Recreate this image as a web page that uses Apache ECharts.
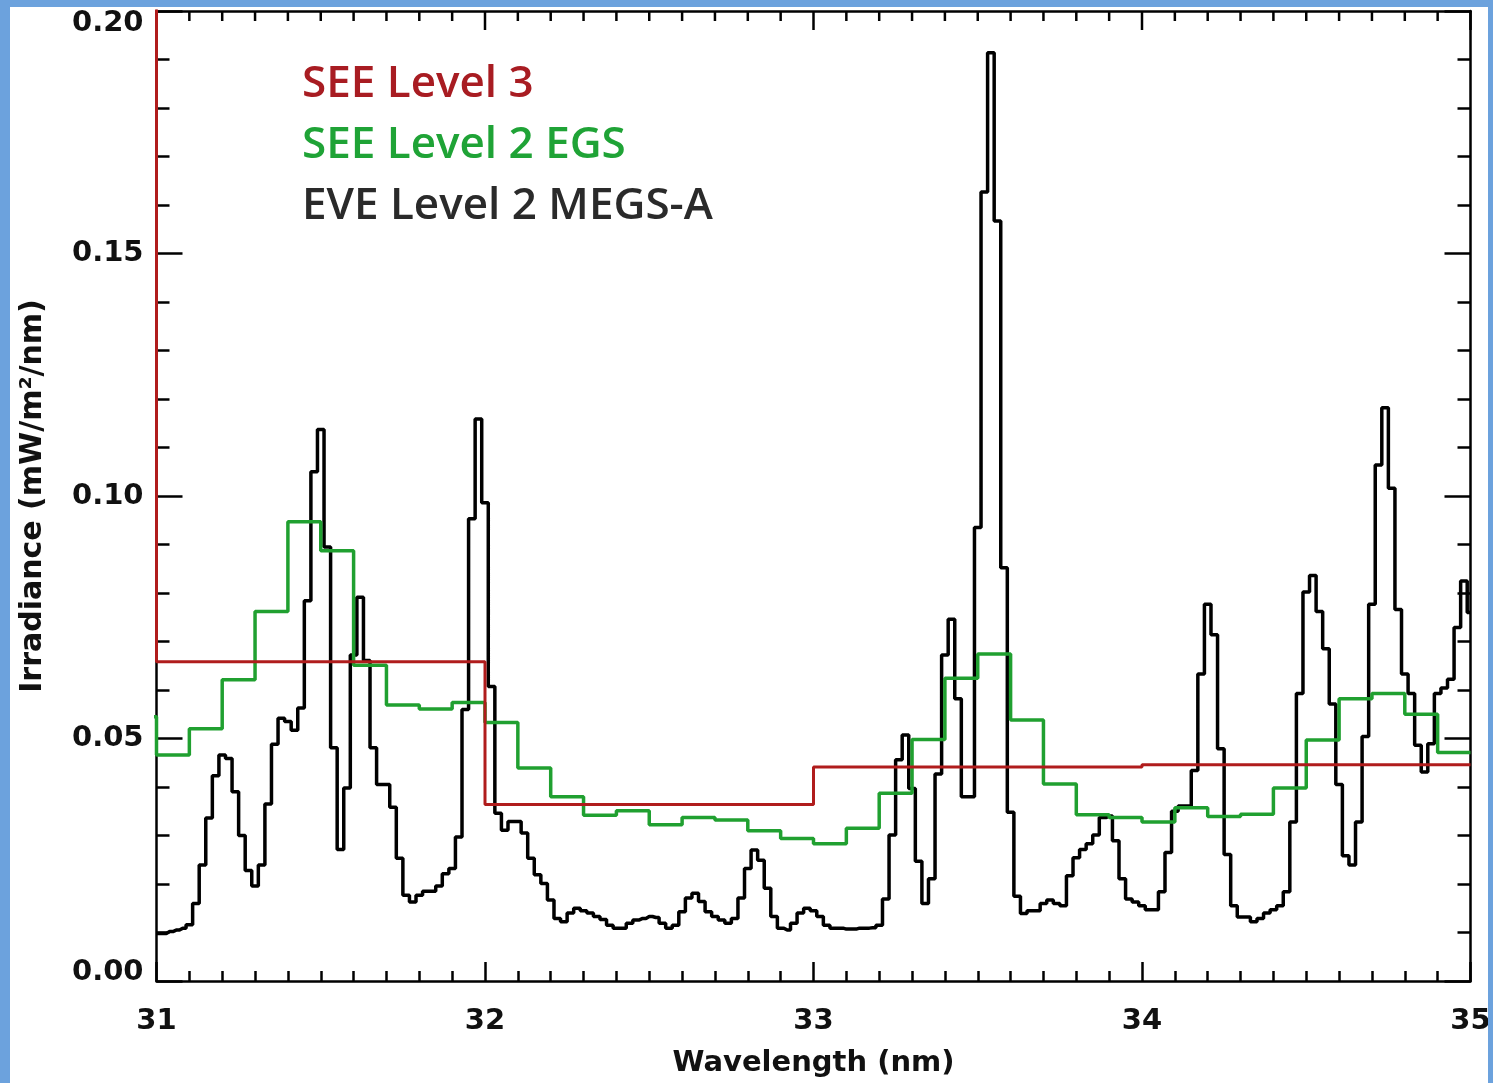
<!DOCTYPE html>
<html>
<head>
<meta charset="utf-8">
<script src="https://cdn.jsdelivr.net/npm/echarts@6/dist/echarts.min.js"></script>
<style>
  html, body { margin: 0; padding: 0; background: #6ca2dd; width: 1493px; height: 1083px; overflow: hidden; }
  #chart { position: absolute; left: 10px; top: 7px; width: 1478px; height: 1076px; background: #ffffff; }
</style>
</head>
<body>
<div id="chart"></div>
<script>
// EVE Level 2 MEGS-A, 0.02 nm bins centred on 31.00 ... 35.00 nm
var eveStart = 31.0;
var eveStep = 0.02;
var eveIrradiance = [
  0.0098, 0.0098, 0.0102, 0.0105, 0.0109, 0.0116, 0.0160, 0.0239, 0.0336, 0.0423,
  0.0466, 0.0459, 0.0390, 0.0300, 0.0228, 0.0196, 0.0239, 0.0365, 0.0488, 0.0542,
  0.0535, 0.0517, 0.0563, 0.0784, 0.1050, 0.1137, 0.0895, 0.0481, 0.0271, 0.0398,
  0.0672, 0.0791, 0.0661, 0.0481, 0.0405, 0.0405, 0.0358, 0.0253, 0.0177, 0.0163,
  0.0177, 0.0185, 0.0185, 0.0196, 0.0221, 0.0232, 0.0297, 0.0560, 0.0953, 0.1159,
  0.0986,
  0.0607, 0.0346, 0.0311, 0.0329, 0.0329, 0.0305, 0.0253, 0.0219, 0.0201, 0.0167,
  0.0129, 0.0122, 0.0140, 0.0150, 0.0145, 0.0140, 0.0133, 0.0127, 0.0115, 0.0109,
  0.0109, 0.0119, 0.0126, 0.0129, 0.0133, 0.0131, 0.0119, 0.0109, 0.0115, 0.0143,
  0.0171, 0.0181, 0.0164, 0.0143, 0.0133, 0.0126, 0.0119, 0.0129, 0.0171, 0.0232,
  0.0270, 0.0249, 0.0191, 0.0133, 0.0109, 0.0105, 0.0119, 0.0140, 0.0150, 0.0145,
  0.0133, 0.0115, 0.0109, 0.0109, 0.0107, 0.0107, 0.0109, 0.0109, 0.0110, 0.0115,
  0.0169, 0.0301, 0.0456, 0.0507, 0.0397, 0.0247, 0.0160, 0.0211, 0.0427, 0.0672,
  0.0746, 0.0582, 0.0380, 0.0380, 0.0935, 0.1627, 0.1914, 0.1567, 0.0852, 0.0348,
  0.0175, 0.0139, 0.0145, 0.0145, 0.0160, 0.0167, 0.0160, 0.0155, 0.0217, 0.0254,
  0.0271, 0.0283, 0.0301, 0.0337, 0.0340, 0.0289, 0.0211, 0.0169, 0.0163, 0.0155,
  0.0147, 0.0147, 0.0184, 0.0265, 0.0350, 0.0361, 0.0361, 0.0434, 0.0633, 0.0777,
  0.0714, 0.0479, 0.0261, 0.0155, 0.0132, 0.0132, 0.0122, 0.0129, 0.0140, 0.0147,
  0.0155, 0.0184, 0.0328, 0.0593, 0.0802, 0.0836, 0.0762, 0.0685, 0.0571, 0.0405,
  0.0258, 0.0239, 0.0328, 0.0504, 0.0777, 0.1064, 0.1182, 0.1016, 0.0766, 0.0633,
  0.0593, 0.0486, 0.0431, 0.0489, 0.0593, 0.0604, 0.0622, 0.0729, 0.0825, 0.0760
];

// SEE Level 2 EGS, 0.1 nm bins, left edges from 30.9 nm
var egsStart = 30.9;
var egsStep = 0.1;
var egsIrradiance = [
  0.0545,
  0.0466, 0.0520, 0.0621, 0.0762, 0.0947, 0.0887, 0.0651, 0.0569, 0.0561, 0.0574,
  0.0533, 0.0439, 0.0380, 0.0342, 0.0351, 0.0322, 0.0337, 0.0332, 0.0310, 0.0294,
  0.0283, 0.0315, 0.0387, 0.0498, 0.0624, 0.0674, 0.0538, 0.0406, 0.0343, 0.0337,
  0.0328, 0.0357, 0.0339, 0.0344, 0.0398, 0.0497, 0.0582, 0.0593, 0.0550, 0.0471
];

// SEE Level 3, 1 nm bins (left edges)
var l3Wavelength = [30, 31, 32, 33, 34, 35];
var l3Irradiance = [0.30, 0.0658, 0.0364, 0.0441, 0.0446, 0.0446];

var yTicks = ['0.00', '0.05', '0.10', '0.15', '0.20'];

var xMin = 31, xMax = 35, xMinorSplit = 10;
var yMax = 0.2;

var eveData = eveIrradiance.map(function (v, i) {
    return [+(eveStart + i * eveStep).toFixed(2), v];
});
var egsData = egsIrradiance.map(function (v, i) {
    return [+(egsStart + i * egsStep).toFixed(1), v];
});
egsData.push([35.0, egsIrradiance[egsIrradiance.length - 1]]);
var l3Data = l3Wavelength.map(function (w, i) { return [w, l3Irradiance[i]]; });

// tick positions of the top frame edge (same as the bottom axis: 1 nm major, 0.1 nm minor)
var topTicks = [];
for (var t = 0; t <= (xMax - xMin) * xMinorSplit; t++) {
    topTicks.push([+(xMin + t / xMinorSplit).toFixed(1), t % xMinorSplit === 0 ? 1 : 0]);
}

var labelFont = { fontFamily: 'DejaVu Sans', fontWeight: 'bold', fontSize: 29, color: '#111' };
var legendFont = { fontFamily: 'Open Sans', fontWeight: 600, fontSize: 44, lineHeight: 46 };

var chart = echarts.init(document.getElementById('chart'));

var frameLine = { color: '#000', width: 2.5 };

var option = {
    animation: false,
    backgroundColor: '#ffffff',
    grid: { left: 146.5, top: 4, width: 1314, height: 970, outerBoundsMode: 'none', containLabel: false },
    legend: {
        orient: 'vertical', left: 282, top: 49, itemGap: 15,
        icon: 'none', itemWidth: 0, itemHeight: 14, selectedMode: false,
        textStyle: legendFont,
        data: [
            { name: 'SEE Level 3', textStyle: { color: '#a81c22' } },
            { name: 'SEE Level 2 EGS', textStyle: { color: '#1fa336' } },
            { name: 'EVE Level 2 MEGS-A', textStyle: { color: '#2a2a2a' } }
        ]
    },
    xAxis: [
        {
            type: 'value', position: 'bottom', min: xMin, max: xMax, interval: 1,
            axisLine: { onZero: false, lineStyle: frameLine },
            axisTick: { inside: true, length: 19, lineStyle: frameLine },
            minorTick: { show: true, splitNumber: xMinorSplit, length: 10, lineStyle: frameLine },
            splitLine: { show: false },
            axisLabel: Object.assign({ margin: 26 }, labelFont),
            name: 'Wavelength (nm)', nameLocation: 'middle', nameGap: 68,
            nameTextStyle: { fontFamily: 'DejaVu Sans', fontWeight: 'bold', fontSize: 29, color: '#111' }
        },
        {
            type: 'value', position: 'top', min: xMin, max: xMax, interval: 1,
            axisLine: { onZero: false, lineStyle: frameLine },
            axisTick: { show: false },
            minorTick: { show: false },
            splitLine: { show: false },
            axisLabel: { show: false }
        }
    ],
    yAxis: [
        {
            type: 'value', position: 'left', min: 0, max: yMax, interval: 0.05,
            axisLine: { show: true, onZero: false, lineStyle: frameLine },
            axisTick: { show: true, inside: true, length: 26, lineStyle: frameLine },
            minorTick: { show: true, splitNumber: 5, length: 13, lineStyle: frameLine },
            splitLine: { show: false },
            axisLabel: Object.assign({
                margin: 13,
                formatter: function (v) {
                    var k = Math.round(v / 0.05);
                    if (k === 4) return '{hi|' + yTicks[k] + '}';
                    if (k === 0) return '{lo|' + yTicks[k] + '}';
                    return yTicks[k];
                },
                rich: {
                    hi: Object.assign({ padding: [24, 0, 0, 0] }, labelFont),
                    lo: Object.assign({ padding: [0, 0, 18, 0] }, labelFont)
                }
            }, labelFont),
            name: 'Irradiance (mW/m\u00b2/nm)', nameLocation: 'middle', nameGap: 108,
            nameTextStyle: { fontFamily: 'DejaVu Sans', fontWeight: 'bold', fontSize: 30, color: '#111' }
        },
        {
            type: 'value', position: 'right', min: 0, max: yMax, interval: 0.05,
            axisLine: { show: true, onZero: false, lineStyle: frameLine },
            axisTick: { show: true, inside: true, length: 26, lineStyle: frameLine },
            minorTick: { show: true, splitNumber: 5, length: 13, lineStyle: frameLine },
            splitLine: { show: false },
            axisLabel: { show: false }
        }
    ],
    series: [
        {
            // ticks along the top frame edge, placed through the x scale
            name: 'topTicks', type: 'custom', data: topTicks,
            xAxisIndex: 0, yAxisIndex: 0, silent: true, clip: false, z: 1,
            renderItem: function (params, api) {
                var p = api.coord([api.value(0), yMax]);
                var len = api.value(1) ? 19 : 10;
                return {
                    type: 'line',
                    shape: { x1: p[0], y1: p[1], x2: p[0], y2: p[1] + len },
                    style: { stroke: '#000', lineWidth: 2.5 }
                };
            }
        },
        {
            name: 'EVE Level 2 MEGS-A', type: 'line', step: 'middle', data: eveData,
            xAxisIndex: 0, yAxisIndex: 0,
            showSymbol: false, clip: true, z: 2,
            lineStyle: { color: '#000', width: 3.5 }, itemStyle: { color: '#000' }
        },
        {
            name: 'SEE Level 2 EGS', type: 'line', step: 'end', data: egsData,
            xAxisIndex: 1, yAxisIndex: 1,
            showSymbol: false, clip: true, z: 3,
            lineStyle: { color: '#20a030', width: 3.5 }, itemStyle: { color: '#20a030' }
        },
        {
            name: 'SEE Level 3', type: 'line', step: 'end', data: l3Data,
            xAxisIndex: 0, yAxisIndex: 0,
            showSymbol: false, clip: true, z: 4,
            lineStyle: { color: '#b01c1c', width: 3 }, itemStyle: { color: '#b01c1c' }
        }
    ]
};

chart.setOption(option);
</script>
</body>
</html>
